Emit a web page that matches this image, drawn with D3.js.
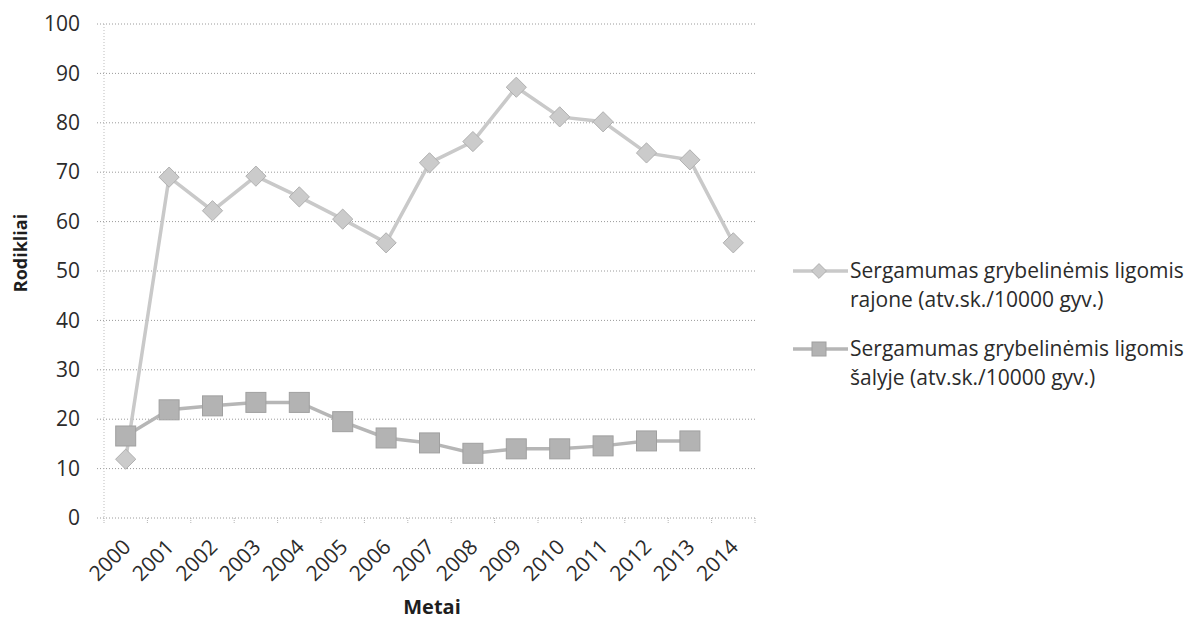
<!DOCTYPE html>
<html><head><meta charset="utf-8">
<script src="https://cdn.jsdelivr.net/npm/d3@7/dist/d3.min.js"></script>
<style>
body{margin:0;background:#fff;}
svg{display:block;font-family:"Open Sans","Noto Sans",sans-serif;}
</style></head>
<body>
<svg id="c" width="1194" height="622"></svg>
<script>
const years = ["2000","2001","2002","2003","2004","2005","2006","2007","2008","2009","2010","2011","2012","2013","2014"];
const rajone = [11.9,69.0,62.2,69.2,65.0,60.5,55.7,71.9,76.2,87.2,81.2,80.2,73.9,72.5,55.7];
const salyje = [16.6,21.9,22.7,23.4,23.4,19.5,16.2,15.2,13.1,14.0,14.0,14.6,15.6,15.6,null];
const yTicks = [0,10,20,30,40,50,60,70,80,90,100];
const seriesNames = [
  ["Sergamumas grybelinėmis ligomis","rajone (atv.sk./10000 gyv.)"],
  ["Sergamumas grybelinėmis ligomis","šalyje (atv.sk./10000 gyv.)"]
];
const yTitle = "Rodikliai";
const xTitle = "Metai";

const svg = d3.select("#c");
const L = 104, R = 755, T = 24, B = 518;
const x = d3.scaleBand().domain(years).range([L, R]);
const y = d3.scaleLinear().domain([0, 100]).range([B, T]);
const cx = d => x(d) + x.bandwidth() / 2;

// gridlines
svg.append("g").selectAll("line").data(yTicks).join("line")
  .attr("x1", L - 7).attr("x2", R)
  .attr("y1", d => y(d)).attr("y2", d => y(d))
  .attr("stroke", "#9a9a9a").attr("stroke-width", 1)
  .attr("stroke-dasharray", "1,2");
// left axis line
svg.append("line").attr("x1", L).attr("x2", L).attr("y1", T).attr("y2", B)
  .attr("stroke", "#bdbdbd").attr("stroke-dasharray", "1,2");

// y axis labels
const ya = svg.append("g").attr("transform", `translate(${L},0)`)
  .call(d3.axisLeft(y).tickValues(yTicks).tickSize(0).tickPadding(24).tickFormat(d3.format("d")));
ya.select(".domain").remove();
ya.selectAll("text").attr("font-size", 21).attr("fill", "#2b2b2b")
  .attr("font-family", "'Open Sans',sans-serif");

// x axis
const xa = svg.append("g").attr("transform", `translate(0,${B})`)
  .call(d3.axisBottom(x).tickSize(0).tickPadding(0));
xa.select(".domain").remove();
xa.selectAll("text").remove();
const bounds = years.map(d => x(d)).concat([R]);
svg.append("g").selectAll("line").data(bounds).join("line")
  .attr("x1", d => d).attr("x2", d => d).attr("y1", B).attr("y2", B + 6)
  .attr("stroke", "#b5b5b5").attr("stroke-dasharray", "1,1");
svg.append("g").selectAll("text").data(years).join("text")
  .attr("transform", d => `translate(${cx(d) + 1},${B + 25}) rotate(-45)`)
  .attr("text-anchor", "end").attr("dy", "0.35em")
  .attr("font-size", 21).attr("fill", "#2b2b2b")
  .text(d => d);

// titles
svg.append("text").attr("transform", `translate(27,253) rotate(-90)`)
  .attr("text-anchor", "middle").attr("font-size", 18).attr("font-weight", "bold")
  .attr("fill", "#1e1e1e").text(yTitle);
svg.append("text").attr("x", 432).attr("y", 614)
  .attr("text-anchor", "middle").attr("font-size", 20).attr("font-weight", "bold")
  .attr("fill", "#1e1e1e").text(xTitle);

// series
const line = d3.line().defined(d => d.v != null).x(d => cx(d.k)).y(d => y(d.v));
const s1 = years.map((k, i) => ({k, v: rajone[i]}));
const s2 = years.map((k, i) => ({k, v: salyje[i]}));

const c1 = {line: "#c9c9c9", fill: "#cbcbcb", stroke: "#b0b0b0"};
const c2 = {line: "#b6b6b6", fill: "#b3b3b3", stroke: "#a0a0a0"};

svg.append("path").datum(s1).attr("d", line).attr("fill", "none")
  .attr("stroke", c1.line).attr("stroke-width", 3.5);
svg.append("path").datum(s2).attr("d", line).attr("fill", "none")
  .attr("stroke", c2.line).attr("stroke-width", 3.5);

svg.append("g").selectAll("rect").data(s2.filter(d => d.v != null)).join("rect")
  .attr("x", d => cx(d.k) - 10).attr("y", d => y(d.v) - 10)
  .attr("width", 20).attr("height", 20)
  .attr("fill", c2.fill).attr("stroke", c2.stroke).attr("stroke-width", 1);

const diamond = d3.symbol().type(d3.symbolDiamond2).size(260);
svg.append("g").selectAll("path").data(s1).join("path")
  .attr("transform", d => `translate(${cx(d.k)},${y(d.v)})`)
  .attr("d", diamond)
  .attr("fill", c1.fill).attr("stroke", c1.stroke).attr("stroke-width", 1);

// legend
const lg = svg.append("g");
const entries = [{c: c1, t: seriesNames[0], y0: 271, m: "d"}, {c: c2, t: seriesNames[1], y0: 349, m: "s"}];
entries.forEach(e => {
  lg.append("line").attr("x1", 793).attr("x2", 848).attr("y1", e.y0).attr("y2", e.y0)
    .attr("stroke", e.c.line).attr("stroke-width", 3.5);
  if (e.m === "d") {
    lg.append("path").attr("transform", `translate(819,${e.y0})`)
      .attr("d", d3.symbol().type(d3.symbolDiamond2).size(140))
      .attr("fill", e.c.fill).attr("stroke", e.c.stroke);
  } else {
    lg.append("rect").attr("x", 812).attr("y", e.y0 - 7).attr("width", 14).attr("height", 14)
      .attr("fill", e.c.fill).attr("stroke", e.c.stroke);
  }
  e.t.forEach((tt, i) => {
    lg.append("text").attr("x", 850).attr("y", e.y0 + i * 29).attr("dy", "0.35em")
      .attr("font-size", 21).attr("fill", "#2b2b2b").text(tt);
  });
});
</script>
</body></html>
